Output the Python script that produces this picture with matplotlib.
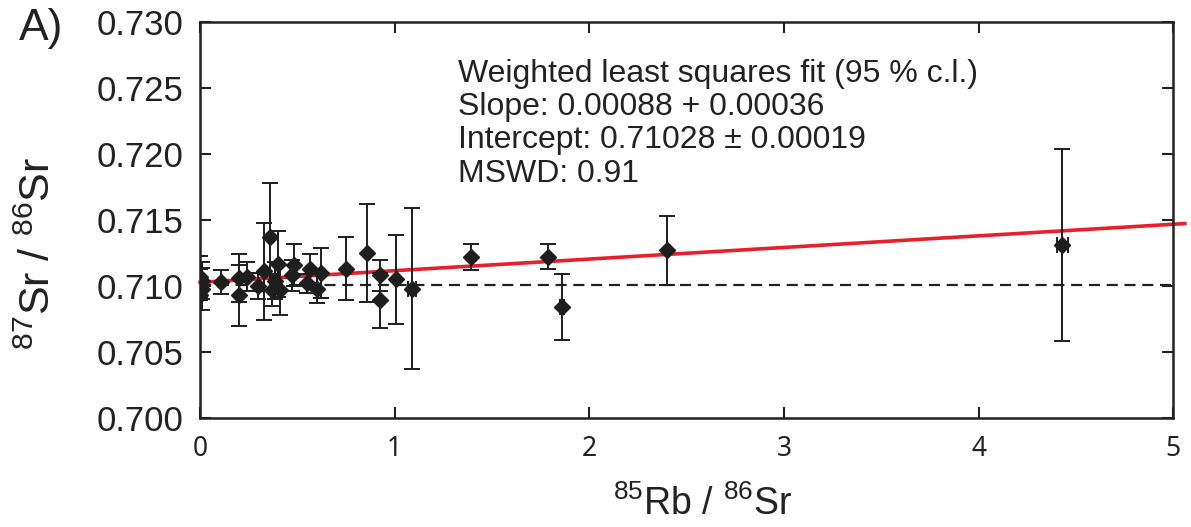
import matplotlib.pyplot as plt
import numpy as np

plt.rcParams['font.family'] = ['Liberation Sans', 'DejaVu Sans']
plt.rcParams['mathtext.fontset'] = 'custom'
plt.rcParams['mathtext.rm'] = 'Liberation Sans'

# Rb/Sr isotope data
rb_sr = [0.00, 0.01, 0.00, 0.01, 0.00, 0.11, 0.20, 0.20, 0.24, 0.30,
         0.33, 0.36, 0.37, 0.385, 0.40, 0.41, 0.47, 0.48, 0.55, 0.565,
         0.60, 0.62, 0.75, 0.86, 0.925, 0.925, 1.005, 1.09, 1.39, 1.79,
         1.86, 2.40, 4.43]
sr_sr = [0.7107, 0.7104, 0.7101, 0.7098, 0.7093, 0.7103, 0.7106, 0.7093, 0.7107, 0.7100,
         0.7111, 0.7137, 0.7097, 0.7104, 0.7117, 0.7097, 0.7108, 0.7116, 0.7102, 0.7113,
         0.7098, 0.7110, 0.7113, 0.7125, 0.7108, 0.7089, 0.7105, 0.7098, 0.7122, 0.7122,
         0.7084, 0.7127, 0.7131]
sr_err = [0.0016, 0.0014, 0.0012, 0.0016, 0.0004, 0.0009, 0.0018, 0.0023, 0.0011, 0.0010,
          0.0037, 0.0041, 0.0012, 0.0014, 0.0025, 0.0019, 0.0012, 0.0016, 0.0007, 0.0011,
          0.0011, 0.0019, 0.0024, 0.0037, 0.0012, 0.0021, 0.0034, 0.0061, 0.0010, 0.00095,
          0.0025, 0.0026, 0.0073]
rb_err = [0, 0, 0, 0, 0, 0, 0, 0, 0, 0,
          0, 0, 0, 0, 0, 0, 0, 0, 0, 0,
          0, 0, 0, 0, 0, 0, 0, 0.02, 0, 0,
          0.01, 0, 0.028]

slope = 0.00088
intercept = 0.71028
initial_ratio = 0.7101

fig = plt.figure(figsize=(11.91, 5.27), dpi=100)
ax = fig.add_axes([0.168, 0.207, 0.817, 0.751])

ax.axhline(initial_ratio, color='#222222', lw=1.6, dashes=(5, 3), zorder=1)
xf = np.array([0, 5.06])
ax.plot(xf, intercept + slope * xf, color='#e8202a', lw=2.6, zorder=2, clip_on=False)

ax.errorbar(rb_sr, sr_sr, yerr=sr_err, xerr=rb_err, fmt='D', color='#1e1e1e',
            ms=8, elinewidth=1.4, capsize=6, capthick=1.4, zorder=3)

ax.set_xlim(0, 5)
ax.set_ylim(0.700, 0.730)
ax.set_xticks([0, 1, 2, 3, 4, 5])
ax.set_yticks(np.arange(0.700, 0.7301, 0.005))
ax.yaxis.set_major_formatter(plt.FormatStrFormatter('%.3f'))
ax.tick_params(direction='in', length=8, width=1.5, top=True, right=True,
               labelsize=25, colors='#222222')
ax.tick_params(axis='y', pad=12)
ax.tick_params(axis='x', pad=12)
for lab in ax.get_xticklabels():
    lab.set_family('Noto Sans')
    lab.set_fontsize(19)
for sp in ax.spines.values():
    sp.set_linewidth(1.8)
    sp.set_color('#222222')

ax.set_xlabel(r'$^{85}$Rb / $^{86}$Sr', fontsize=27, color='#222222')
ax.xaxis.set_label_coords(0.516, -0.17)
ax.set_ylabel(r'$^{87}$Sr / $^{86}$Sr', fontsize=31, color='#222222')
ax.yaxis.set_label_coords(-0.145, 0.415)

ax.text(0.265, 0.908,
        'Weighted least squares fit (95 % c.l.)\n'
        'Slope: 0.00088 + 0.00036\n'
        'Intercept: 0.71028 \u00b1 0.00019\n'
        'MSWD: 0.91',
        transform=ax.transAxes, fontsize=23, color='#222222',
        va='top', ha='left', linespacing=1.15)

fig.text(0.016, 0.985, 'A)', fontsize=32, color='#222222', va='top', ha='left')

fig.savefig('out.png', dpi=100)
